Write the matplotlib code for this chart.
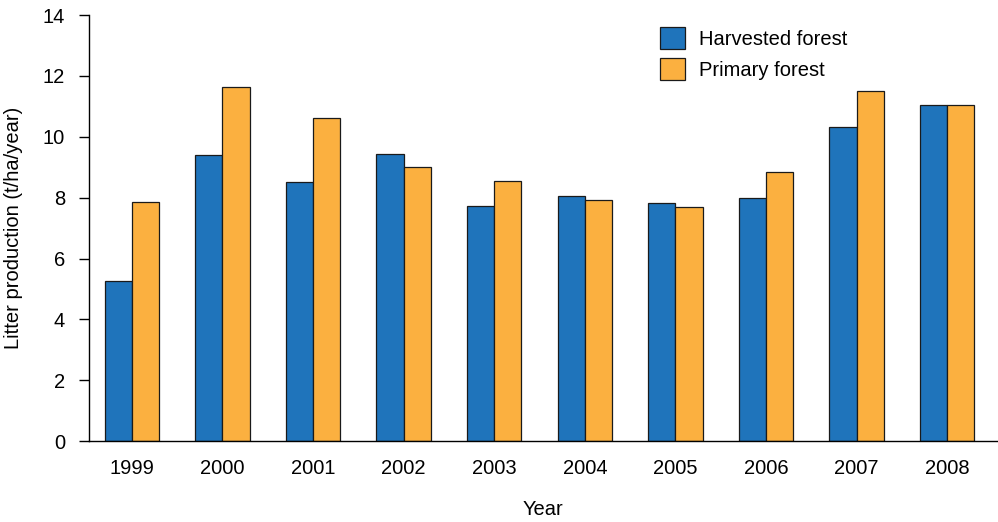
import matplotlib
matplotlib.use("Agg")
import matplotlib.pyplot as plt
import numpy as np

years = ["1999", "2000", "2001", "2002", "2003", "2004", "2005", "2006", "2007", "2008"]
harvested = [5.26, 9.40, 8.51, 9.43, 7.72, 8.05, 7.82, 7.99, 10.32, 11.04]
primary = [7.85, 11.63, 10.61, 9.00, 8.54, 7.92, 7.69, 8.84, 11.50, 11.04]

plt.rcParams['font.family'] = ['Liberation Sans', 'DejaVu Sans']

fig = plt.figure(figsize=(9.98, 5.22), dpi=100)
ax = fig.add_axes([0.089, 0.155, 0.911, 0.816])

x = np.arange(len(years))
w = 0.3
ax.bar(x - w/2, harvested, w, color='#1f74bb', edgecolor='#1a1a1a', linewidth=0.9, label='Harvested forest')
ax.bar(x + w/2, primary, w, color='#fbb040', edgecolor='#1a1a1a', linewidth=0.9, label='Primary forest')

fs = 14.5
ax.set_xlim(-0.475, 9.56)
ax.set_ylim(0, 14)
ax.set_yticks(range(0, 15, 2))
ax.set_xticks(x)
ax.set_xticklabels(years)
ax.tick_params(axis='x', length=0, pad=13, labelsize=fs)
ax.tick_params(axis='y', length=7, width=1, labelsize=fs, pad=10)
for s in ['top', 'right']:
    ax.spines[s].set_visible(False)
ax.spines['left'].set_linewidth(1)
ax.spines['bottom'].set_linewidth(1)

ax.set_xlabel('Year', fontsize=fs, labelpad=16)
ax.set_ylabel('Litter production (t/ha/year)', fontsize=fs, labelpad=14)

ax.legend(loc='upper left', bbox_to_anchor=(0.608, 1.015), frameon=False, fontsize=fs,
          handlelength=1.25, handleheight=1.3, handletextpad=0.7, labelspacing=0.45)

fig.savefig('out.png', dpi=100)
